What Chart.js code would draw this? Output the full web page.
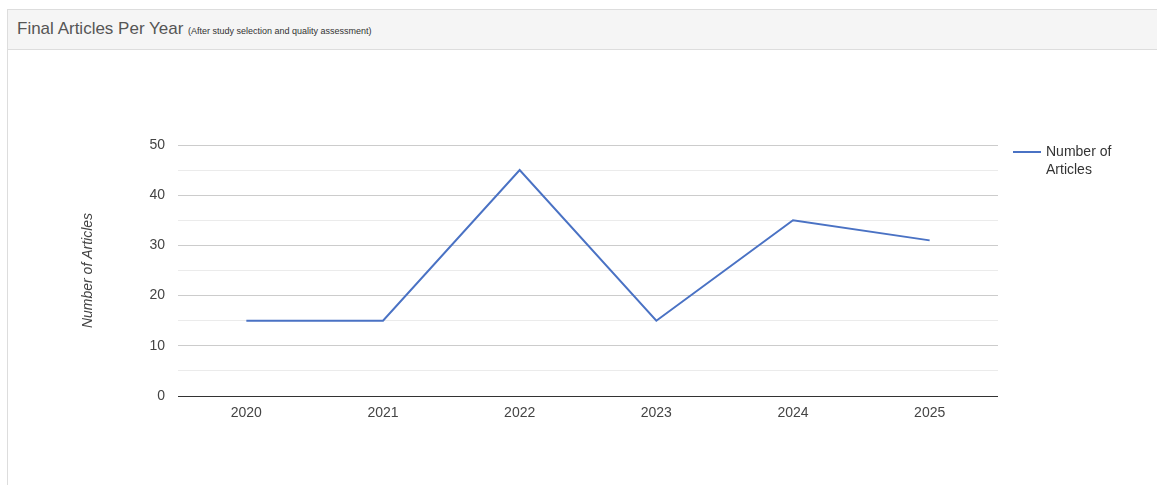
<!DOCTYPE html>
<html><head><meta charset="utf-8">
<script src="https://cdn.jsdelivr.net/npm/chart.js@4"></script>
<style>
html,body{margin:0;padding:0;background:#fff;width:1157px;height:485px;overflow:hidden;font-family:"Liberation Sans",Arial,sans-serif;}
#panel{position:absolute;left:7px;top:9px;width:1160px;height:490px;border:1px solid #dddddd;box-sizing:border-box;}
#head{position:absolute;left:0;top:0;right:0;height:40px;background:#f5f5f5;border-bottom:1px solid #dddddd;box-sizing:border-box;}
#title{position:absolute;left:9px;top:9px;color:#555;font-size:17px;white-space:nowrap;}
#title small{font-size:9px;color:#333;}
#wrap{position:absolute;left:0;top:0;width:1157px;height:485px;}
</style></head><body>
<div id="panel"><div id="head"><div id="title">Final Articles Per Year <small>(After study selection and quality assessment)</small></div></div></div>
<div id="wrap"><canvas id="c" width="1157" height="485"></canvas></div>
<script>
const categories = ["2020","2021","2022","2023","2024","2025"];
const articles = [15, 15, 45, 15, 35, 31];
const seriesName = "Number of Articles";
const legendLines = ["Number of", "Articles"];
const yTitle = "Number of Articles";

const lineColor = "#4a72c4";
const FONT = "'Liberation Sans', Arial, sans-serif";
const extras = {
  id: "extras",
  afterDraw(chart) {
    const ctx = chart.ctx;
    const a = chart.chartArea;
    ctx.save();
    ctx.translate(88, (a.top + a.bottom) / 2);
    ctx.rotate(-Math.PI / 2);
    ctx.fillStyle = "#444";
    ctx.font = "italic 14px " + FONT;
    ctx.textAlign = "center";
    ctx.textBaseline = "middle";
    ctx.fillText(yTitle, 0, 0);
    ctx.restore();
    ctx.save();
    ctx.strokeStyle = lineColor;
    ctx.lineWidth = 2;
    ctx.beginPath();
    ctx.moveTo(1013, 152);
    ctx.lineTo(1041, 152);
    ctx.stroke();
    ctx.fillStyle = "#333";
    ctx.font = "14px " + FONT;
    ctx.textBaseline = "middle";
    ctx.textAlign = "left";
    legendLines.forEach((t, i) => ctx.fillText(t, 1046, 152 + i * 18));
    ctx.restore();
  }
};

new Chart(document.getElementById("c"), {
  type: "line",
  data: {
    labels: categories,
    datasets: [{
      label: seriesName,
      data: articles,
      borderColor: lineColor,
      backgroundColor: lineColor,
      borderWidth: 2,
      pointRadius: 0,
      tension: 0,
      fill: false
    }]
  },
  options: {
    responsive: false,
    animation: false,
    events: [],
    layout: { padding: { left: 0, right: 159, top: 145, bottom: 0 } },
    plugins: { legend: { display: false }, tooltip: { enabled: false } },
    scales: {
      x: {
        offset: true,
        grid: { display: false, drawTicks: false },
        border: { display: false },
        ticks: { color: "#444", font: { size: 14, family: FONT }, padding: 9, maxRotation: 0 },
        afterFit(s) { s.height = 89; }
      },
      y: {
        min: 0, max: 50,
        grid: {
          drawTicks: false,
          color: (c) => c.tick.value === 0 ? "#333333" : (c.tick.value % 10 === 0 ? "#cccccc" : "#ebebeb"),
          lineWidth: 1
        },
        border: { display: false },
        ticks: {
          stepSize: 5,
          color: "#444",
          padding: 13,
          font: { size: 14, family: FONT },
          callback: (v) => v % 10 === 0 ? String(v) : ""
        },
        afterFit(s) { s.width = 178; }
      }
    }
  },
  plugins: [extras]
});
</script>
</body></html>
